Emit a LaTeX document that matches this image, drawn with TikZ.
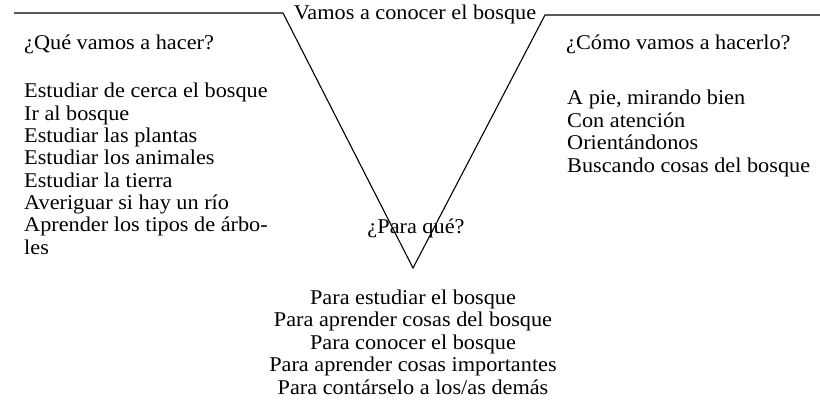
\documentclass[tikz,border=0pt]{standalone}
\usepackage{fontspec}
\setmainfont[FakeStretch=1.06]{Liberation Serif}
\begin{document}
\begin{tikzpicture}[x=1pt,y=-1pt,
  txt/.style={inner sep=0pt, anchor=base west, font=\fontsize{21}{22.6}\selectfont},
  ctxt/.style={inner sep=0pt, anchor=base, font=\fontsize{21}{22.6}\selectfont},
  vline/.style={line width=1.1pt, black}]
\useasboundingbox (0,0) rectangle (820,412);
% V shape
\coordinate (L0) at (14,13);
\coordinate (L1) at (283,13);
\coordinate (T) at (413,268);
\coordinate (R1) at (545,15);
\coordinate (R0) at (820,15);
\draw[vline] (L0) -- (L1) -- (T) -- (R1) -- (R0);
% title
\node[ctxt] (title) at (415,20) {Vamos a conocer el bosque};
% left block
\node[txt] (qhead) at (24,50) {¿Qué vamos a hacer?};
\foreach \t [count=\i from 0] in {Estudiar de cerca el bosque, Ir al bosque, Estudiar las plantas, Estudiar los animales, Estudiar la tierra, Averiguar si hay un río, Aprender los tipos de árbo-, les}
  \node[txt] (q\i) at (24,{98+22.3*\i}) {\t};
% right block
\node[txt] (chead) at (566,50) {¿Cómo vamos a hacerlo?};
\foreach \t [count=\i from 0] in {A pie{,} mirando bien, Con atención, Orientándonos, Buscando cosas del bosque}
  \node[txt] (c\i) at (567,{105+22.4*\i}) {\t};
% bottom block
\node[ctxt] (phead) at (416,233) {¿Para qué?};
\foreach \t [count=\i from 0] in {Para estudiar el bosque, Para aprender cosas del bosque, Para conocer el bosque, Para aprender cosas importantes, Para contárselo a los/as demás}
  \node[ctxt] (p\i) at (413,{304+22.5*\i}) {\t};
\end{tikzpicture}
\end{document}
